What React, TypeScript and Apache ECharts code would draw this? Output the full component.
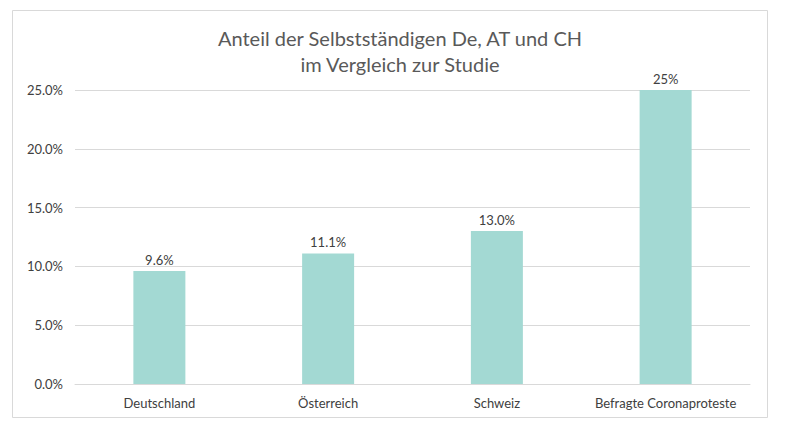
import React, { useEffect, useRef } from "react";
import * as echarts from "echarts";

const categories = ["Deutschland", "Österreich", "Schweiz", "Befragte Coronaproteste"];
const values = [9.6, 11.1, 13.0, 25];
const valueLabels = ["9.6%", "11.1%", "13.0%", "25%"];

export default function App() {
  const ref = useRef<HTMLDivElement>(null);
  useEffect(() => {
    document.body.style.margin = "0";
    const chart = echarts.init(ref.current!, null, { renderer: "svg" });
    chart.setOption({
      animation: false,
      textStyle: { fontFamily: "Lato, 'Noto Sans', sans-serif" },
      graphic: [
        { type: "rect", shape: { x: 12.5, y: 10.5, width: 755, height: 407 }, style: { fill: "none", stroke: "#d9d9d9", lineWidth: 1 } },
      ],
      title: {
        text: "Anteil der Selbstständigen De, AT und CH\nim Vergleich zur Studie",
        left: "center",
        top: 20,
        textStyle: { fontSize: 20, fontWeight: "normal", color: "#595959", lineHeight: 26, fontFamily: "Lato, sans-serif" },
      },
      grid: { left: 75, right: 50, top: 90, bottom: 54 },
      xAxis: {
        type: "category",
        data: categories,
        axisTick: { show: false },
        axisLine: { lineStyle: { color: "#d9d9d9" } },
        axisLabel: { color: "#404040", fontSize: 13, margin: 12, interval: 0 },
      },
      yAxis: {
        type: "value",
        min: 0,
        max: 25,
        interval: 5,
        axisLabel: { formatter: (v: number) => v.toFixed(1) + "%", color: "#404040", fontSize: 13, margin: 12 },
        splitLine: { lineStyle: { color: "#d9d9d9" } },
      },
      series: [
        {
          type: "bar",
          data: values,
          barWidth: 52,
          itemStyle: { color: "#a3d9d3" },
          label: {
            show: true,
            position: "top",
            color: "#404040",
            fontSize: 13,
            formatter: (p: any) => valueLabels[p.dataIndex],
          },
        },
      ],
    });
    return () => chart.dispose();
  }, []);
  return <div ref={ref} style={{ width: 800, height: 438 }} />;
}
